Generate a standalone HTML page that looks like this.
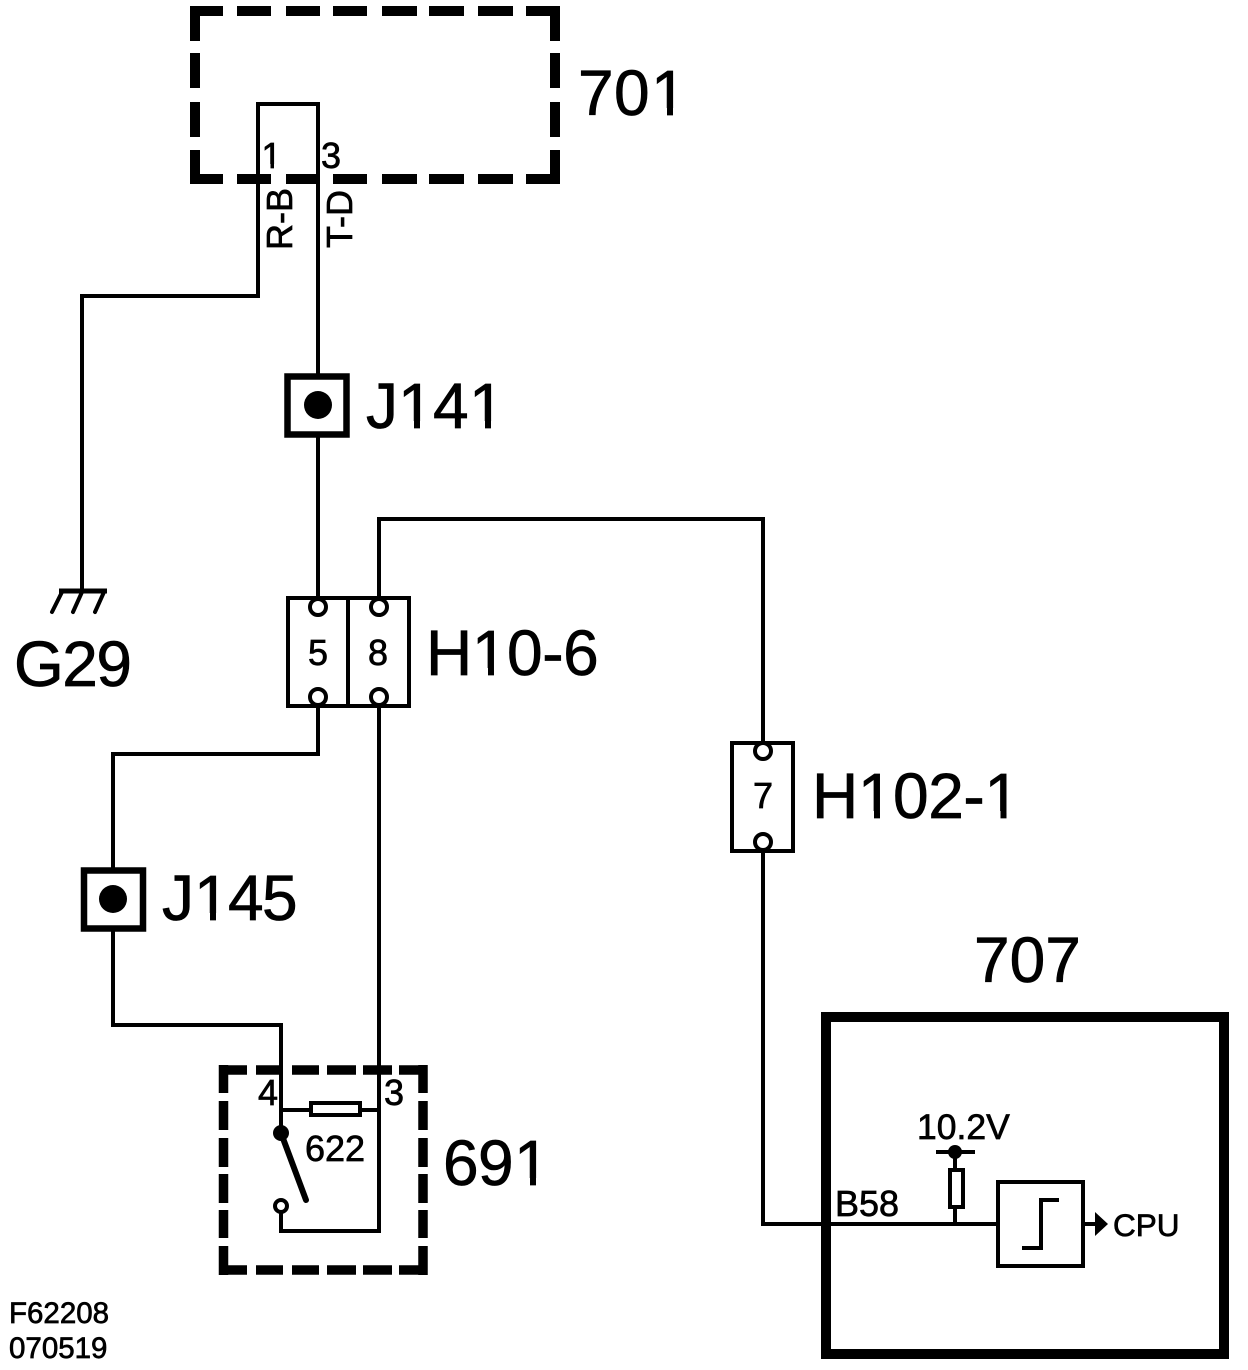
<!DOCTYPE html>
<html><head><meta charset="utf-8"><style>
html,body{margin:0;padding:0;background:#fff;width:1248px;height:1370px;overflow:hidden}
svg{display:block}
text{font-family:"Liberation Sans",sans-serif;fill:#000;stroke:#000;stroke-width:.7}
</style></head><body>
<svg width="1248" height="1370" viewBox="0 0 1248 1370" xmlns="http://www.w3.org/2000/svg">
<g fill="none" stroke="#000">
<!-- 701 dashed box -->
<path stroke-width="10" d="M223 11H190M237 11H271M286 11H320M333 11H367M382 11H417M429 11H464M478 11H513M526 11H560
M223 179H190M237 179H271M286 179H320M333 179H367M382 179H417M429 179H464M478 179H513M526 179H560
M195 6V41M195 53V88M195 102V137M195 150V184
M555 6V41M555 53V88M555 102V137M555 150V184"/>
<!-- 691 dashed box -->
<path stroke-width="9.5" d="M219 1070H247M256 1070H283M292 1070H319M327 1070H356M363 1070H392M399 1070H427
M219 1270H247M256 1270H283M292 1270H319M327 1270H356M363 1270H392M399 1270H427
M223.5 1065V1093M223.5 1101V1130M223.5 1138V1167M223.5 1174V1203M223.5 1210V1238M223.5 1246V1275
M423 1065V1093M423 1101V1130M423 1138V1167M423 1174V1203M423 1210V1238M423 1246V1275"/>
<!-- 707 box -->
<rect x="826" y="1017" width="398" height="337" stroke-width="10"/>
<g stroke-width="4">
<path d="M82 590V296H258V104H318V375"/>
<path d="M318 435V600"/>
<path d="M379 598V519H763V744"/>
<path d="M318 706V754H113V870"/>
<path d="M113 928V1025H281V1133"/>
<path d="M379 706V1231H281V1206"/>
<path d="M763 850V1224H998"/>
<path d="M281 1110H311M360 1110H379"/>
<rect x="311" y="1103" width="49" height="12"/>
<path d="M955 1152V1170M955 1206V1224"/>
<rect x="950" y="1170" width="13" height="37"/>
<path d="M936 1152H975"/>
<path d="M1084 1224H1098"/>
<rect x="998" y="1182" width="85" height="84"/>
<path d="M1022 1248H1041V1200H1059"/>
<rect x="288" y="598" width="121" height="108"/>
<path d="M348 598V706"/>
<rect x="732" y="743" width="61" height="108"/>
<path d="M62 592L52 612M82 592L73 612M104 592L95 612" stroke-linecap="round"/>
<path d="M59 591H107" stroke-width="5"/>
</g>
<rect x="287.5" y="376.5" width="59" height="58" stroke-width="6.5"/>
<rect x="84" y="870.5" width="59" height="58" stroke-width="6.5"/>
<path d="M281 1133L306 1200" stroke-width="6" stroke-linecap="round"/>
</g>
<circle cx="318" cy="405" r="14"/>
<circle cx="113" cy="899" r="14"/>
<circle cx="281" cy="1133" r="8"/>
<circle cx="955" cy="1152" r="7"/>
<path d="M1095 1212L1108 1224L1095 1236Z"/>
<g fill="#fff" stroke="#000" stroke-width="4">
<circle cx="318" cy="607" r="8"/><circle cx="379" cy="607" r="8"/>
<circle cx="318" cy="697" r="8"/><circle cx="379" cy="697" r="8"/>
<circle cx="763" cy="751" r="8"/><circle cx="763" cy="842" r="8"/>
<circle cx="281" cy="1206" r="6"/>
</g>
<g font-size="64" style="stroke-width:.9">
<text x="578 614 651" y="115">701</text>
<text x="366 398 433 469" y="428">J141</text>
<text x="14" y="686" letter-spacing="-1.5">G29</text>
<text x="426" y="675" letter-spacing="-.4">H10-6</text>
<text x="812" y="818" letter-spacing="-.4">H102-1</text>
<text x="162 194 228 262" y="920">J145</text>
<text x="443 478 514" y="1185">691</text>
<text x="974" y="982">707</text>
</g>
<!-- trim the foot of the figure 1 glyphs -->
<g fill="#fff">
<rect x="654" y="108" width="13" height="9"/><rect x="673" y="108" width="14" height="9"/>
<rect x="401" y="421" width="13" height="9"/><rect x="420" y="421" width="13" height="9"/>
<rect x="472" y="421" width="13" height="9"/><rect x="491" y="421" width="14" height="9"/>
<rect x="475" y="668" width="13" height="9"/><rect x="494" y="668" width="13" height="9"/>
<rect x="861" y="811" width="13" height="9"/><rect x="880" y="811" width="13" height="9"/>
<rect x="987.5" y="811" width="13" height="9"/><rect x="1006.5" y="811" width="14" height="9"/>
<rect x="197" y="913" width="13" height="9"/><rect x="216" y="913" width="12" height="9"/>
<rect x="517" y="1178" width="13" height="9"/><rect x="536" y="1178" width="14" height="9"/>
</g>
<g font-size="36">
<text x="261.5" y="168">1</text>
<text x="321" y="168">3</text>
<text x="308" y="665">5</text>
<text x="368" y="665">8</text>
<text x="753" y="808">7</text>
<text x="258" y="1105">4</text>
<text x="384" y="1105">3</text>
<text x="305" y="1161">622</text>
<text x="917" y="1139" font-size="35.5">10.2V</text>
<text x="835" y="1216">B58</text>
<text x="1113" y="1236" font-size="31.5">CPU</text>
<text transform="translate(292 250) rotate(-90)">R-B</text>
<text transform="translate(352 248) rotate(-90)">T-D</text>
</g>
<g fill="#fff">
<rect x="263" y="164" width="7.5" height="6"/><rect x="274" y="164" width="8" height="6"/>
</g>
<g font-size="29.5" style="stroke-width:.9">
<text x="9" y="1323">F62208</text>
<text x="9" y="1358">070519</text>
</g>
</svg>
</body></html>
